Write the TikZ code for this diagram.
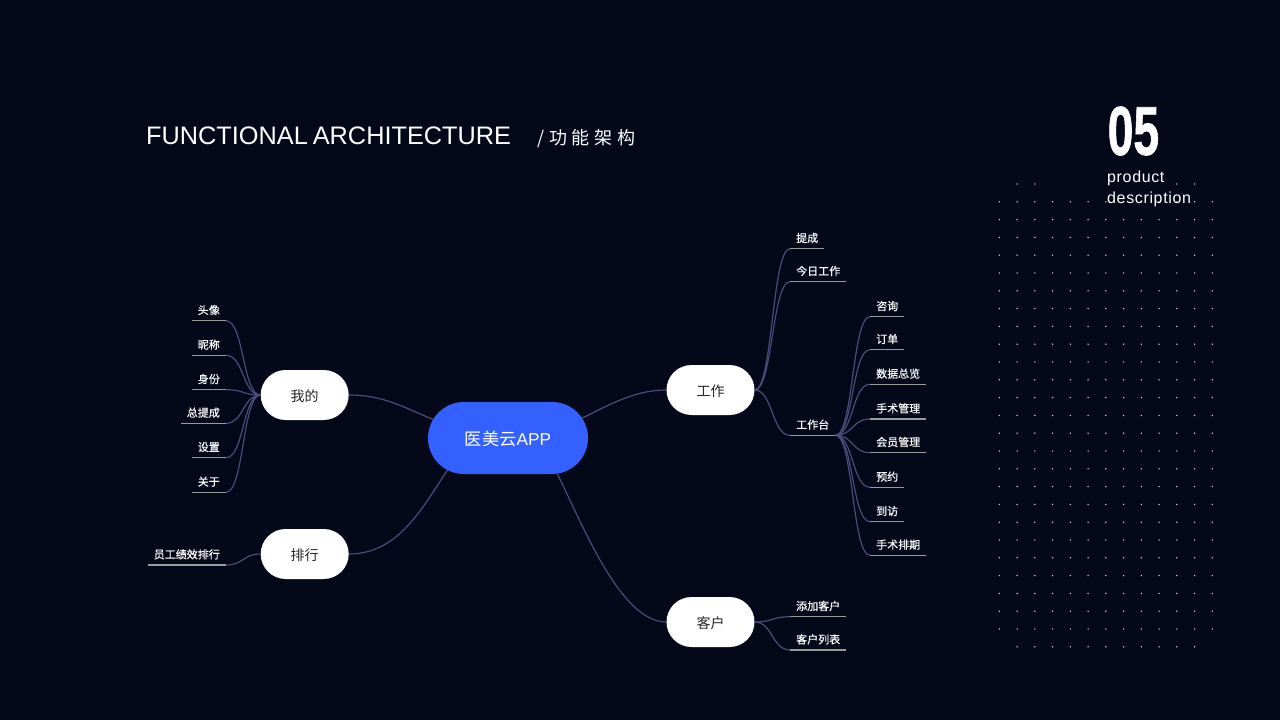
\documentclass[tikz,border=0pt]{standalone}
\usepackage{fontspec}
\setmainfont{Liberation Sans}
\newfontfamily\cjk[FakeBold=.35]{Noto Sans CJK SC}
\newfontfamily\cjkpill{Noto Sans CJK SC}
\newfontfamily\cjkwide[LetterSpace=27]{Noto Sans CJK SC}
\newfontfamily\latinwide[LetterSpace=4]{Liberation Sans}
\newfontfamily\numfont[FakeBold=1.2]{Liberation Sans Bold}
\usetikzlibrary{positioning,shapes.misc}
\definecolor{nightbg}{HTML}{040819}
\definecolor{rootblue}{HTML}{3360FF}
\definecolor{linkcol}{HTML}{4F4A7A}
\definecolor{rulecol}{HTML}{9A9A9A}
\tikzset{
  pill/.style={rounded rectangle,fill=white,text=black!85,minimum width=88pt,minimum height=50pt,inner sep=0pt,text height=12.6pt,text depth=0pt,font=\cjkpill\fontsize{14}{14}\selectfont},
  rootpill/.style={rounded rectangle,fill=rootblue,text=white,minimum width=160pt,minimum height=72pt,inner sep=0pt,text height=15pt,text depth=0pt,font=\fontsize{17.2}{18}\selectfont},
  leaf/.style={text=white,inner xsep=6pt,inner ysep=0pt,text height=14pt,text depth=6.3pt,font=\cjk\fontsize{11}{11}\selectfont,
    append after command={(\tikzlastnode.south west) edge[rulecol,line width=1.1pt] (\tikzlastnode.south east)}},
  link/.style={linkcol,line width=1.2pt},
  rbranch/.style={out=0,in=180,distance=18pt},
  lbranch/.style={out=180,in=0,distance=18pt},
  dotmark/.style={fill=white!80!nightbg},
}
\begin{document}
\begin{tikzpicture}[x=1pt,y=-1pt]
\fill[nightbg] (0,0) rectangle (1280,720);
\useasboundingbox (0,0) rectangle (1280,720);

% dot field
\foreach \k in {1,...,25}
  \foreach \i in {0,...,12}
    \fill[dotmark] ({999.3+17.75*\i},{184+17.8*\k}) circle (.8pt);
\foreach \i in {1,2,10,11}
  \fill[dotmark] ({999.3+17.75*\i},184) circle (.8pt);
\foreach \i in {1,...,11}
  \fill[dotmark] ({999.3+17.75*\i},646.8) circle (.8pt);

% headings
\node[anchor=west,inner sep=0pt,text=white,font=\fontsize{25.3}{25.3}\selectfont] (title) at (146,135.5) {FUNCTIONAL\hspace{-2pt} ARCHITECTURE};
\node[anchor=west,inner sep=0pt,text=white,font=\cjkwide\fontsize{18}{18}\selectfont] (subtitle) at (537,139) {/功能架构};
\node[anchor=west,inner sep=0pt,text=white,font=\numfont\fontsize{69}{69}\selectfont] (number) at (1107.5,131) {\scalebox{.67}[1]{05}};
\node[anchor=west,inner sep=0pt,text=white,font=\latinwide\fontsize{16}{16}\selectfont] (product) at (1107,178) {product};
\node[anchor=west,inner sep=0pt,text=white,font=\latinwide\fontsize{16}{16}\selectfont] (description) at (1107,199) {description};

% main nodes
\path
(508,438)     node[rootpill] (root) {{\cjkpill 医美云}APP}
(304.7,395)   node[pill] (mine) {我的}
(304.7,554)   node[pill] (rank) {排行}
(710.5,390)   node[pill] (work) {工作}
(710.5,622)   node[pill] (client) {客户}
;

% left leaves
\path
(226,320.7)   node[leaf,anchor=south east] (avatar) {头像}
(226,355.3)   node[leaf,anchor=south east] (nick) {昵称}
(226,389.7)   node[leaf,anchor=south east] (identity) {身份}
(226,423.3)   node[leaf,anchor=south east] (total) {总提成}
(226,457.7)   node[leaf,anchor=south east] (settings) {设置}
(226,492.3)   node[leaf,anchor=south east] (about) {关于}
(226,565)     node[leaf,anchor=south east] (staff) {员工绩效排行}
;

% right leaves
\path
(790,248.7)   node[leaf,anchor=south west] (bonus) {提成}
(790,281.7)   node[leaf,anchor=south west] (today) {今日工作}
(790,435.3)   node[leaf,anchor=south west] (desk) {工作台}
(790,616.7)   node[leaf,anchor=south west] (addclient) {添加客户}
(790,650)     node[leaf,anchor=south west] (clientlist) {客户列表}
(870,316.7)   node[leaf,anchor=south west] (consult) {咨询}
(870,349.7)   node[leaf,anchor=south west] (order) {订单}
(870,384.3)   node[leaf,anchor=south west] (data) {数据总览}
(870,419)     node[leaf,anchor=south west] (surgery) {手术管理}
(870,452.7)   node[leaf,anchor=south west] (member) {会员管理}
(870,487.3)   node[leaf,anchor=south west] (booking) {预约}
(870,521.7)   node[leaf,anchor=south west] (visit) {到访}
(870,555.3)   node[leaf,anchor=south west] (schedule) {手术排期}
;

% root links
\draw[link] (mine.east) .. controls +(35,0) and +(-30,-12) .. (root.166);
\draw[link] (rank.east) .. controls +(50,0) and +(-25,37) .. (root.208);
\draw[link] (root.15) .. controls +(30,-15) and +(-30,0) .. (work.west);
\draw[link] (root.-36) .. controls +(25,50) and +(-46,0) .. (client.west);

% left branches
\draw[link] (mine.west) to[lbranch] (avatar.south east);
\draw[link] (mine.west) to[lbranch] (nick.south east);
\draw[link] (mine.west) to[lbranch] (identity.south east);
\draw[link] (mine.west) to[lbranch] (total.south east);
\draw[link] (mine.west) to[lbranch] (settings.south east);
\draw[link] (mine.west) to[lbranch] (about.south east);
\draw[link] (rank.west) to[lbranch] (staff.south east);

% right branches
\draw[link] (work.east) to[rbranch] (bonus.south west);
\draw[link] (work.east) to[rbranch] (today.south west);
\draw[link] (work.east) to[rbranch] (desk.south west);
\draw[link] (client.east) to[rbranch] (addclient.south west);
\draw[link] (client.east) to[rbranch] (clientlist.south west);
\draw[link] (desk.south east) to[rbranch] (consult.south west);
\draw[link] (desk.south east) to[rbranch] (order.south west);
\draw[link] (desk.south east) to[rbranch] (data.south west);
\draw[link] (desk.south east) to[rbranch] (surgery.south west);
\draw[link] (desk.south east) to[rbranch] (member.south west);
\draw[link] (desk.south east) to[rbranch] (booking.south west);
\draw[link] (desk.south east) to[rbranch] (visit.south west);
\draw[link] (desk.south east) to[rbranch] (schedule.south west);
\end{tikzpicture}
\end{document}
